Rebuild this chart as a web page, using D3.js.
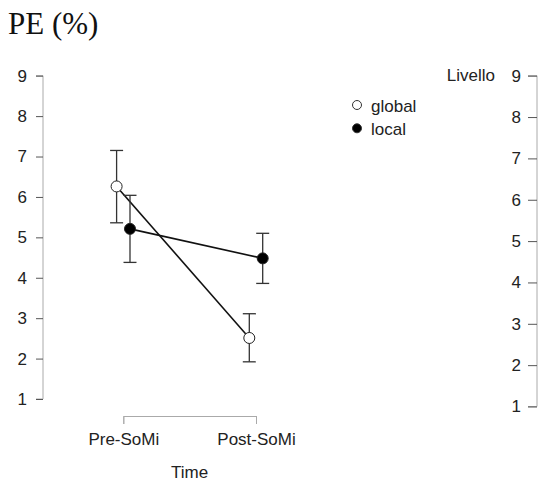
<!DOCTYPE html>
<html>
<head>
<meta charset="utf-8">
<script src="https://cdn.jsdelivr.net/npm/d3@7"></script>
<style>
  body { margin: 0; background: #fff; }
  svg { display: block; }
  text { font-family: "Liberation Sans", Arial, sans-serif; }
</style>
</head>
<body>
<svg width="540" height="482"></svg>
<script>
// dati
const times = ['Pre-SoMi', 'Post-SoMi'];
const levels = ['global', 'local'];
const globalMean = [6.26, 2.51];
const globalLow = [5.36, 1.92];
const globalHigh = [7.15, 3.11];
const localMean = [5.21, 4.48];
const localLow = [4.38, 3.86];
const localHigh = [6.04, 5.10];
const yTicks = [1, 2, 3, 4, 5, 6, 7, 8, 9];

const svg = d3.select('svg');

const x = d3.scalePoint().domain(times).range([123.3, 256]);
const y = d3.scaleLinear().domain([1, 9]).range([399, 75.7]);
const yRight = d3.scaleLinear().domain([1, 9]).range([406.5, 75.7]);
const dodge = 6.7;
const fs = '17px';

const series = [
    { name: 'global', mean: globalMean, low: globalLow, high: globalHigh, off: -dodge, fill: '#fff' },
    { name: 'local', mean: localMean, low: localLow, high: localHigh, off: dodge, fill: '#000' }
];

// titolo
svg.append('text')
    .attr('x', 8).attr('y', 34)
    .style('font-family', '"Liberation Serif", "Times New Roman", serif')
    .style('font-size', '31px')
    .attr('fill', '#111')
    .text('PE (%)');

// asse sinistro
const left = svg.append('g').attr('transform', 'translate(43,0)')
    .call(d3.axisLeft(y).tickValues(yTicks).tickSize(7).tickPadding(9).tickFormat(d3.format('d')));
left.select('.domain').attr('stroke', '#aaa').attr('d', `M-7,${y(9)}H0V${y(1)}H-7`);
left.selectAll('.tick line').attr('stroke', '#555');
left.selectAll('.tick text').style('font-size', fs).attr('fill', '#222');

// asse destro (Livello)
const right = svg.append('g').attr('transform', 'translate(537,0)')
    .call(d3.axisLeft(yRight).tickValues(yTicks).tickSize(9).tickPadding(7).tickFormat(d3.format('d')));
right.select('.domain').attr('stroke', '#aaa').attr('d', `M-9,${yRight(9)}H0V${yRight(1)}H-9`);
right.selectAll('.tick line').attr('stroke', '#555');
right.selectAll('.tick text').style('font-size', fs).attr('fill', '#222');

svg.append('text')
    .attr('x', 495).attr('y', 81)
    .attr('text-anchor', 'end')
    .style('font-size', fs)
    .attr('fill', '#222')
    .text('Livello');

// asse x
const bottom = svg.append('g').attr('transform', 'translate(0,416)')
    .call(d3.axisBottom(x).tickSize(8).tickPadding(9));
bottom.select('.domain').attr('stroke', '#aaa');
bottom.selectAll('.tick line').attr('stroke', '#aaa');
bottom.selectAll('.tick text').style('font-size', fs).attr('fill', '#222');

svg.append('text')
    .attr('x', (x(times[0]) + x(times[1])) / 2).attr('y', 478)
    .attr('text-anchor', 'middle')
    .style('font-size', fs)
    .attr('fill', '#222')
    .text('Time');

// linee
const line = d3.line();
series.forEach(s => {
    svg.append('path')
        .attr('d', line(times.map((t, i) => [x(t) + s.off, y(s.mean[i])])))
        .attr('fill', 'none')
        .attr('stroke', '#111')
        .attr('stroke-width', 1.6);
});

// barre di errore
series.forEach(s => {
    const g = svg.append('g').attr('stroke', '#333').attr('stroke-width', 1.3);
    times.forEach((t, i) => {
        const cx = x(t) + s.off;
        g.append('line').attr('x1', cx).attr('x2', cx).attr('y1', y(s.low[i])).attr('y2', y(s.high[i]));
        g.append('line').attr('x1', cx - 6.5).attr('x2', cx + 6.5).attr('y1', y(s.low[i])).attr('y2', y(s.low[i]));
        g.append('line').attr('x1', cx - 6.5).attr('x2', cx + 6.5).attr('y1', y(s.high[i])).attr('y2', y(s.high[i]));
    });
});

// punti
series.forEach(s => {
    svg.append('g').selectAll('circle')
        .data(times)
        .enter().append('circle')
        .attr('cx', (t) => x(t) + s.off)
        .attr('cy', (t, i) => y(s.mean[i]))
        .attr('r', 5.5)
        .attr('fill', s.fill)
        .attr('stroke', '#222')
        .attr('stroke-width', 1);
});

// legenda
const legend = svg.append('g');
series.forEach((s, i) => {
    legend.append('circle')
        .attr('cx', 357).attr('cy', 105 + i * 23.3)
        .attr('r', 4.5)
        .attr('fill', s.fill)
        .attr('stroke', '#333')
        .attr('stroke-width', 1);
    legend.append('text')
        .attr('x', 371).attr('y', 111.5 + i * 23.3)
        .style('font-size', fs)
        .attr('fill', '#222')
        .text(levels[i]);
});
</script>
</body>
</html>
